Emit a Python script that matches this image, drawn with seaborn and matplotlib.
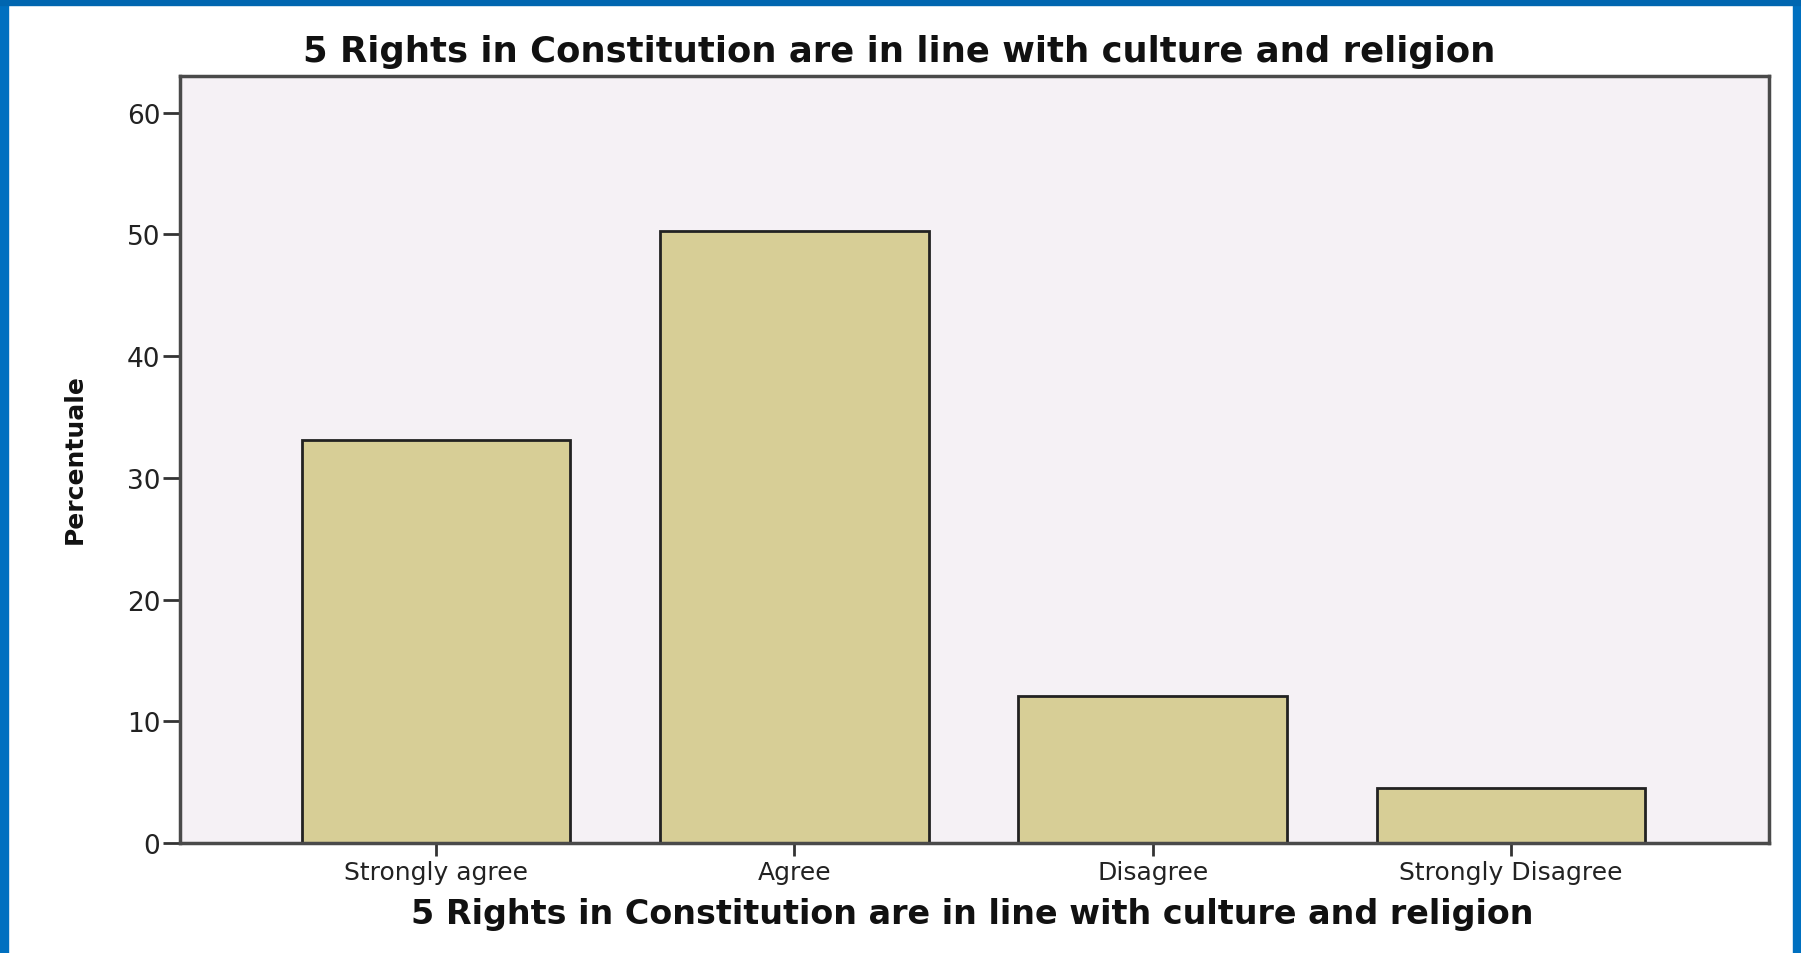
import numpy as np
import seaborn as sns
import matplotlib.pyplot as plt
from matplotlib.patches import Rectangle

# data
categories = ['Strongly agree', 'Agree', 'Disagree', 'Strongly Disagree']
percent = [33.1, 50.3, 12.1, 4.5]
y_ticks = [0, 10, 20, 30, 40, 50, 60]
title = '5 Rights in Constitution are in line with culture and religion'

sns.set_theme(style='white')
plt.rcParams['font.family'] = ['DejaVu Sans']

fig = plt.figure(figsize=(18.01, 9.54), dpi=100)
fig.patch.set_facecolor('white')
ax = fig.add_axes([0.0999, 0.1153, 0.8823, 0.8040])
ax.set_facecolor('#F5F1F5')

sns.barplot(x=categories, y=percent, color='#D7CE96', saturation=1,
            edgecolor='#222222', linewidth=2, width=0.75, ax=ax)

ax.set_xlim(-0.715, 3.72)
ax.set_ylim(0, 63)
ax.set_yticks(y_ticks)
ax.tick_params(axis='y', which='major', direction='out', length=12, width=2,
               color='#333333', labelsize=19, pad=2, left=True, labelcolor='#222222')
ax.tick_params(axis='x', which='major', direction='out', length=9, width=2,
               color='#333333', labelsize=18, pad=3, bottom=True, labelcolor='#222222')

for s in ax.spines.values():
    s.set_color('#4a4a4a')
    s.set_linewidth(2.5)

ax.set_title(title, fontsize=25.5, fontweight='bold', x=0.4525, y=1.0326,
             va='center', color='#111111', pad=0)
ax.set_xlabel(title, fontsize=24, fontweight='bold', color='#111111')
ax.xaxis.set_label_coords(0.4984, -0.0913)
ax.xaxis.label.set_va('center')
ax.set_ylabel('Percentuale', fontsize=18, fontweight='bold', color='#111111')
ax.yaxis.set_label_coords(-0.0661, 0.502)
ax.yaxis.label.set_va('center')

# blue slide frame
fig.patches.append(Rectangle((0, 0), 8 / 1801, 1, transform=fig.transFigure,
                             color='#0070C0', zorder=-1))
fig.patches.append(Rectangle((1 - 8 / 1801, 0), 8 / 1801, 1, transform=fig.transFigure,
                             color='#0070C0', zorder=-1))
fig.patches.append(Rectangle((0, 1 - 6 / 954), 1, 6 / 954, transform=fig.transFigure,
                             color='#0066B0', zorder=-1))

fig.savefig('out.png', dpi=100)
